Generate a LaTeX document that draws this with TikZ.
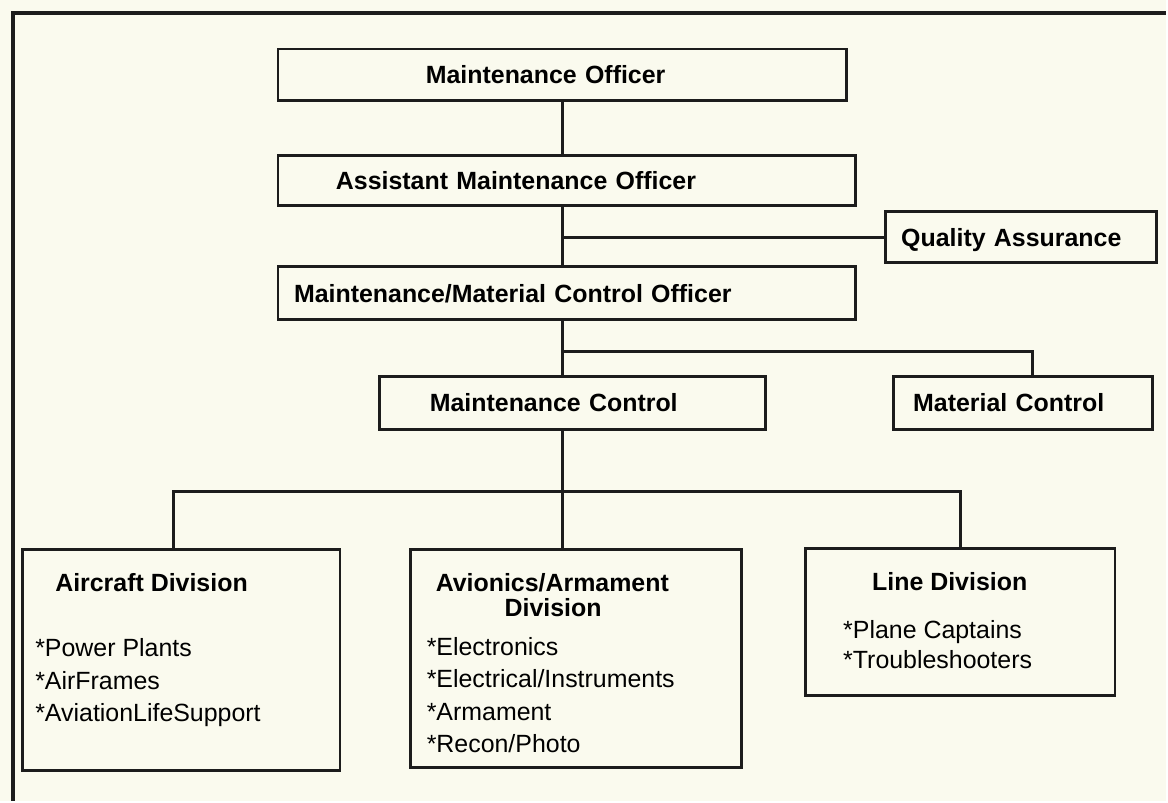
\documentclass[tikz,border=0pt]{standalone}
\usepackage{fontspec}
\setmainfont{Liberation Sans}
\usetikzlibrary{positioning}
\definecolor{paper}{RGB}{250,250,238}
\definecolor{ink}{RGB}{28,28,28}
\newcommand{\chartfont}{\fontsize{14.2pt}{18.5pt}\selectfont}

\begin{document}
\begin{tikzpicture}[
    unit/.style={draw=ink, line width=1.6pt, anchor=west, align=left,
                 inner ysep=0pt, text height=0.36cm, text depth=0cm,
                 font=\chartfont\bfseries},
    divbox/.style={draw=ink, line width=1.6pt, anchor=north west, inner sep=0pt},
    divtext/.style={align=left, inner sep=0pt, font=\chartfont},
    link/.style={draw=ink, line width=1.6pt}]
  % paper and the open frame
  \fill[paper] (0,0) rectangle (23.36,16.04);
  \draw[ink, line width=1.8pt] (0.26,0) -- (0.26,15.78) -- (23.36,15.78);

  % officer chain down the middle
  \node[unit, minimum height=1.04cm, text width=5.46cm, inner xsep=2.96cm]
    (mo) at (5.54,14.54) {Maintenance Officer};
  \node[unit, minimum height=1.0cm, text width=9.24cm, inner xsep=1.16cm]
    (amo) at (5.54,12.42) {Assistant Maintenance Officer};
  \node[unit, minimum height=1.02cm, text width=4.80cm, inner xsep=0.32cm]
    (qa) at (17.70,11.29) {Quality Assurance};
  \node[unit, minimum height=1.06cm, text width=10.92cm, inner xsep=0.32cm]
    (mmco) at (5.54,10.17) {Maintenance/Material Control Officer};
  \node[unit, minimum height=1.06cm, text width=5.72cm, inner xsep=1.0cm]
    (mc) at (7.58,7.97) {Maintenance Control};
  \node[unit, minimum height=1.06cm, text width=4.40cm, inner xsep=0.40cm]
    (matc) at (17.86,7.97) {Material Control};

  % divisions
  \node[divbox, minimum width=6.36cm, minimum height=4.42cm] (air) at (0.42,5.06) {};
  \node[divbox, minimum width=6.62cm, minimum height=4.36cm] (avi) at (8.2,5.06) {};
  \node[divbox, minimum width=6.2cm, minimum height=2.94cm] (line) at (16.1,5.08) {};

  \node[divtext, below right=0.50cm and 0.28cm of air.north west] (airtext)
    {\hspace*{0.4cm}\textbf{Aircraft Division}\\[0.65cm]
     *Power Plants\\
     *AirFrames\\
     *AviationLifeSupport};
  \node[divtext, below right=0.495cm and 0.34cm of avi.north west] (avitext)
    {\hspace*{0.18cm}\textbf{Avionics/Armament}\\[-0.15cm]
     \hspace*{1.56cm}\textbf{Division}\\[0.13cm]
     *Electronics\\
     *Electrical/Instruments\\
     *Armament\\
     *Recon/Photo};
  \node[divtext, below right=0.495cm and 0.78cm of line.north west] (linetext)
    {\hspace*{0.58cm}\textbf{Line Division}\\[0.31cm]
     *Plane Captains\\[-0.05cm]
     *Troubleshooters};

  % connectors
  \coordinate (matjoin) at (20.68,9.0);
  \coordinate (busleft) at (3.48,6.2);
  \coordinate (busright) at (19.24,6.2);
  \draw[link] (mo.south) -- (mo.south |- amo.north);
  \draw[link] (mo.south |- amo.south) -- (mo.south |- mmco.north);
  \draw[link] (mo.south |- qa.west) -- (qa.west);
  \draw[link] (mo.south |- mmco.south) -- (mo.south |- mc.north);
  \draw[link] (mo.south |- matjoin) -- (matjoin) -- (matjoin |- matc.north);
  \draw[link] (mo.south |- mc.south) -- (mo.south |- avi.north);
  \draw[link] (busleft |- air.north) -- (busleft) -- (busright) -- (busright |- line.north);
\end{tikzpicture}
\end{document}
